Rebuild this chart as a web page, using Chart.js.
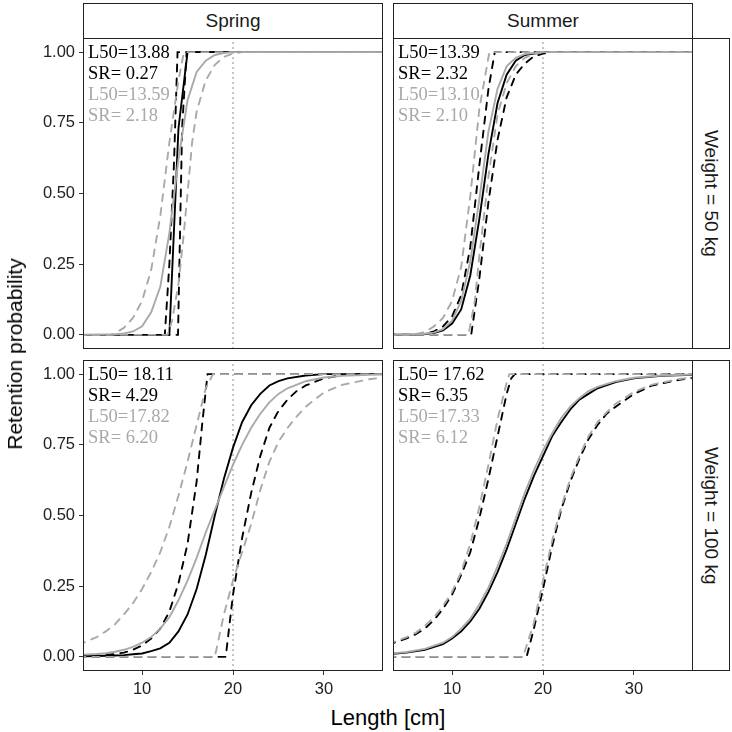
<!DOCTYPE html>
<html>
<head>
<meta charset="utf-8">
<script src="https://cdn.jsdelivr.net/npm/chart.js@4.4.1/dist/chart.umd.min.js"></script>
<style>
  body { margin: 0; background: #fff; }
  #fig { position: relative; width: 732px; height: 732px; overflow: hidden; font-family: "Liberation Sans", Arial, sans-serif; }
  canvas { position: absolute; }
  .box { position: absolute; box-sizing: border-box; border: 1px solid #222; pointer-events: none; }
  .strip { display: flex; align-items: center; justify-content: center; font-size: 19px; color: #1a1a1a; background: #fff; }
  .vert { writing-mode: vertical-rl; }
  .title { position: absolute; color: #000; white-space: nowrap; }
</style>
</head>
<body>
<div id="fig">
  <canvas id="tl" width="383" height="311" style="left:0px;top:38px"></canvas>
  <canvas id="tr" width="300" height="311" style="left:393px;top:38px"></canvas>
  <canvas id="bl" width="383" height="341" style="left:0px;top:360px"></canvas>
  <canvas id="br" width="300" height="341" style="left:393px;top:360px"></canvas>

  <div class="box" style="left:83px;top:38px;width:300px;height:311px"></div>
  <div class="box" style="left:393px;top:38px;width:300px;height:311px"></div>
  <div class="box" style="left:83px;top:360px;width:300px;height:311px"></div>
  <div class="box" style="left:393px;top:360px;width:300px;height:311px"></div>

  <div class="box strip" id="s0" style="left:83px;top:3px;width:300px;height:36px"></div>
  <div class="box strip" id="s1" style="left:393px;top:3px;width:300px;height:36px"></div>
  <div class="box strip vert" id="w0" style="left:692px;top:38px;width:38px;height:311px"></div>
  <div class="box strip vert" id="w1" style="left:692px;top:360px;width:38px;height:311px"></div>

  <div class="title" id="xtitle" style="left:388px;top:718px;font-size:22px;transform:translate(-50%,-50%)"></div>
  <div class="title" id="ytitle" style="left:15px;top:354px;font-size:21px;transform:translate(-50%,-50%) rotate(-90deg)"></div>
</div>
<script>
// facet labels and axis text
const seasons = ['Spring', 'Summer'];
const weights = ['Weight = 50 kg', 'Weight = 100 kg'];
const xTitle = 'Length [cm]';
const yTitle = 'Retention probability';
const xTicks = [10, 20, 30];
const yTicks = [0, 0.25, 0.5, 0.75, 1];
const refLength = 20;

// L50 / SR labels per panel (TL, TR, BL, BR)
const blackLabels = [['L50=13.88', 'SR= 0.27'], ['L50=13.39', 'SR= 2.32'], ['L50= 18.11', 'SR= 4.29'], ['L50= 17.62', 'SR= 6.35']];
const greyLabels = [['L50=13.59', 'SR= 2.18'], ['L50=13.10', 'SR= 2.10'], ['L50=17.82', 'SR= 6.20'], ['L50=17.33', 'SR= 6.12']];

// Spring, 50 kg
const spring50BlackFit = [[3,0],[13,0],[14,0.73],[15,1],[37,1]];
const spring50BlackLeft = [[3,0],[12.5,0],[13,0.25],[13.5,0.6],[13.9,1],[37,1]];
const spring50BlackRight = [[3,0],[13.95,0],[14.4,0.73],[14.9,1],[37,1]];
const spring50GreyFit = [[3,0],[7,0.002],[8,0.005],[9,0.012],[10,0.03],[11,0.08],[12,0.17],[13,0.36],[14,0.62],[15,0.83],[16,0.93],[17,0.97],[18,0.99],[19,0.997],[20,1],[37,1]];
const spring50GreyLeft = [[3,0],[6.5,0],[7,0.005],[8,0.025],[9,0.06],[10,0.12],[11,0.23],[12,0.42],[13,0.68],[14,0.9],[14.6,1],[37,1]];
const spring50GreyRight = [[3,0],[12.8,0],[13.3,0.05],[14,0.18],[14.5,0.33],[15,0.5],[15.5,0.68],[16,0.79],[17,0.9],[18,0.955],[19,0.983],[20,0.995],[21,1],[37,1]];

// Summer, 50 kg
const summer50BlackFit = [[3,0],[6,0.001],[7,0.003],[8,0.006],[9,0.016],[10,0.04],[11,0.09],[12,0.21],[13,0.41],[14,0.64],[15,0.82],[16,0.92],[17,0.97],[18,0.99],[19,0.995],[20,1],[37,1]];
const summer50BlackLeft = [[3,0],[6,0.001],[7,0.004],[8,0.012],[9,0.03],[10,0.065],[11,0.14],[12,0.31],[13,0.6],[14,0.87],[14.7,1],[37,1]];
const summer50BlackRight = [[3,0],[12.1,0],[13,0.2],[14,0.47],[15,0.69],[16,0.84],[17,0.92],[18,0.96],[19,0.985],[20,0.995],[21,1],[37,1]];
const summer50GreyFit = [[3,0],[6,0.002],[7,0.004],[8,0.008],[9,0.02],[10,0.05],[11,0.12],[12,0.26],[13,0.48],[14,0.72],[15,0.87],[16,0.95],[17,0.98],[18,0.993],[20,1],[37,1]];
const summer50GreyLeft = [[3,0],[5,0.001],[6,0.003],[7,0.01],[8,0.03],[9,0.06],[10,0.12],[11,0.24],[12,0.49],[13,0.8],[14.1,1],[37,1]];
const summer50GreyRight = [[3,0],[11.8,0],[12.5,0.12],[13,0.28],[14,0.56],[15,0.78],[16,0.89],[17,0.95],[18,0.98],[19,0.993],[20,1],[37,1]];

// Spring, 100 kg
const spring100BlackFit = [[3,0.002],[5,0.003],[7,0.005],[8,0.006],[9,0.009],[10,0.012],[11,0.02],[12,0.03],[13,0.05],[14,0.09],[15,0.15],[16,0.24],[17,0.36],[18,0.5],[19,0.63],[20,0.74],[21,0.83],[22,0.89],[23,0.93],[24,0.96],[25,0.975],[26,0.985],[28,0.995],[30,1],[37,1]];
const spring100BlackLeft = [[3,0.003],[5,0.005],[6,0.007],[7,0.01],[8,0.015],[9,0.025],[10,0.04],[11,0.065],[12,0.1],[13,0.16],[14,0.26],[15,0.4],[16,0.62],[16.6,0.82],[17.2,1],[37,1]];
const spring100BlackRight = [[3,0],[19.2,0],[20,0.22],[21,0.42],[22,0.58],[23,0.71],[24,0.81],[25,0.87],[26,0.91],[27,0.94],[28,0.96],[30,0.985],[32,0.997],[33,1],[37,1]];
const spring100GreyFit = [[3,0.007],[5,0.01],[6,0.013],[7,0.018],[8,0.025],[9,0.035],[10,0.05],[11,0.07],[12,0.1],[13,0.14],[14,0.2],[15,0.27],[16,0.35],[17,0.44],[18,0.52],[19,0.6],[20,0.68],[21,0.75],[22,0.81],[23,0.86],[24,0.9],[25,0.93],[26,0.95],[28,0.975],[30,0.988],[32,0.994],[35,0.998],[37,0.999]];
const spring100GreyLeft = [[3,0.042],[5,0.07],[6,0.09],[7,0.115],[8,0.15],[9,0.19],[10,0.24],[11,0.3],[12,0.37],[13,0.46],[14,0.57],[15,0.69],[16,0.82],[17,0.95],[17.8,1],[37,1]];
const spring100GreyRight = [[3,0],[18,0],[19,0.15],[20,0.27],[21,0.37],[22,0.47],[23,0.59],[24,0.69],[25,0.76],[26,0.81],[27,0.85],[28,0.885],[30,0.935],[32,0.962],[35,0.982],[37,0.99]];

// Summer, 100 kg
const summer100BlackFit = [[3,0.01],[5,0.015],[7,0.025],[9,0.045],[10,0.065],[11,0.09],[12,0.125],[13,0.17],[14,0.23],[15,0.3],[16,0.38],[17,0.47],[18,0.56],[19,0.64],[20,0.71],[21,0.78],[22,0.83],[23,0.875],[24,0.91],[25,0.93],[26,0.95],[28,0.972],[30,0.985],[33,0.994],[37,0.998]];
const summer100BlackLeft = [[3,0.043],[5,0.065],[6,0.08],[7,0.1],[8,0.13],[9,0.17],[10,0.22],[11,0.29],[12,0.37],[13,0.49],[14,0.63],[15,0.78],[16,0.93],[16.5,0.985],[16.9,1],[37,1]];
const summer100BlackRight = [[3,0],[18.2,0],[19,0.1],[20,0.24],[21,0.39],[22,0.52],[23,0.62],[24,0.7],[25,0.77],[26,0.82],[27,0.86],[28,0.885],[30,0.93],[32,0.96],[35,0.98],[37,0.99]];
const summer100GreyFit = [[3,0.011],[5,0.017],[7,0.028],[9,0.05],[10,0.07],[11,0.1],[12,0.135],[13,0.185],[14,0.245],[15,0.32],[16,0.4],[17,0.49],[18,0.58],[19,0.66],[20,0.73],[21,0.79],[22,0.845],[23,0.885],[24,0.915],[25,0.94],[26,0.955],[28,0.975],[30,0.987],[33,0.995],[37,0.999]];
const summer100GreyLeft = [[3,0.045],[5,0.07],[6,0.085],[7,0.11],[8,0.14],[9,0.18],[10,0.23],[11,0.3],[12,0.4],[13,0.53],[14,0.68],[15,0.84],[16,0.97],[16.3,1],[37,1]];
const summer100GreyRight = [[3,0],[17.8,0],[19,0.12],[20,0.27],[21,0.41],[22,0.53],[23,0.63],[24,0.71],[25,0.78],[26,0.83],[27,0.865],[28,0.895],[30,0.937],[32,0.963],[35,0.983],[37,0.99]];

const BLACK = '#000000';
const GREY = '#a9a9a9';

document.getElementById('s0').textContent = seasons[0];
document.getElementById('s1').textContent = seasons[1];
document.getElementById('w0').textContent = weights[0];
document.getElementById('w1').textContent = weights[1];
document.getElementById('xtitle').textContent = xTitle;
document.getElementById('ytitle').textContent = yTitle;

const toXY = arr => arr.map(p => ({ x: p[0], y: p[1] }));

function curve(arr, color, dashed) {
  return {
    data: toXY(arr),
    borderColor: color,
    borderWidth: 1.9,
    borderDash: dashed ? [7, 7] : [],
    borderCapStyle: dashed ? 'round' : 'butt',
    pointRadius: 0,
    fill: false,
    tension: 0
  };
}

// L50 / SR text in the top-left corner of each panel
const labelPlugin = {
  id: 'l50text',
  afterDatasetsDraw(chart, args, opts) {
    const ctx = chart.ctx;
    const a = chart.chartArea;
    const lines = [[opts.black[0], BLACK], [opts.black[1], BLACK], [opts.grey[0], GREY], [opts.grey[1], GREY]];
    ctx.save();
    ctx.font = '18.5px "Liberation Serif", "Times New Roman", serif';
    ctx.textBaseline = 'middle';
    ctx.textAlign = 'left';
    lines.forEach((l, i) => {
      ctx.fillStyle = l[1];
      ctx.fillText(l[0], a.left + 5, a.top + 15 + i * 21);
    });
    ctx.restore();
  }
};

// keep the plot area exactly the panel box: no extra label padding
function noPad(s) {
  s.paddingTop = 0;
  s.paddingBottom = 0;
  s.paddingLeft = 0;
  s.paddingRight = 0;
}

function drawPanel(id, curves, idx, showX, showY) {
  const datasets = [
    curve(curves.greyLeft, GREY, true),
    curve(curves.greyRight, GREY, true),
    curve(curves.greyFit, GREY, false),
    curve(curves.blackLeft, BLACK, true),
    curve(curves.blackRight, BLACK, true),
    curve(curves.blackFit, BLACK, false),
    {
      data: [{ x: refLength, y: -0.1 }, { x: refLength, y: 1.1 }],
      borderColor: '#9c9c9c', borderWidth: 1.5, borderDash: [0.5, 4.5], borderCapStyle: 'round', pointRadius: 0
    }
  ];
  const tickFont = { family: '"Liberation Sans", Arial, sans-serif', size: 16.5 };
  new Chart(document.getElementById(id), {
    type: 'line',
    data: { datasets },
    options: {
      responsive: false,
      animation: false,
      events: [],
      layout: { padding: 0 },
      plugins: {
        legend: { display: false },
        tooltip: { enabled: false },
        l50text: { black: blackLabels[idx], grey: greyLabels[idx] }
      },
      scales: {
        x: {
          type: 'linear', min: 3.5, max: 36.5, display: showX,
          afterBuildTicks: s => { s.ticks = xTicks.map(v => ({ value: v })); },
          afterFit: s => { noPad(s); if (showX) s.height = 30; },
          ticks: { color: '#222', font: tickFont, padding: 5, maxRotation: 0, autoSkip: false },
          grid: { drawOnChartArea: false, drawTicks: true, tickLength: 4, color: '#333' },
          border: { display: false }
        },
        y: {
          type: 'linear', min: -0.05, max: 1.05, display: showY,
          afterBuildTicks: s => { s.ticks = yTicks.map(v => ({ value: v })); },
          afterFit: s => { noPad(s); if (showY) s.width = 83; },
          ticks: { color: '#222', font: tickFont, padding: 4, callback: v => v.toFixed(2) },
          grid: { drawOnChartArea: false, drawTicks: true, tickLength: 4, color: '#333' },
          border: { display: false }
        }
      }
    },
    plugins: [labelPlugin]
  });
}

drawPanel('tl', { blackFit: spring50BlackFit, blackLeft: spring50BlackLeft, blackRight: spring50BlackRight,
  greyFit: spring50GreyFit, greyLeft: spring50GreyLeft, greyRight: spring50GreyRight }, 0, false, true);
drawPanel('tr', { blackFit: summer50BlackFit, blackLeft: summer50BlackLeft, blackRight: summer50BlackRight,
  greyFit: summer50GreyFit, greyLeft: summer50GreyLeft, greyRight: summer50GreyRight }, 1, false, false);
drawPanel('bl', { blackFit: spring100BlackFit, blackLeft: spring100BlackLeft, blackRight: spring100BlackRight,
  greyFit: spring100GreyFit, greyLeft: spring100GreyLeft, greyRight: spring100GreyRight }, 2, true, true);
drawPanel('br', { blackFit: summer100BlackFit, blackLeft: summer100BlackLeft, blackRight: summer100BlackRight,
  greyFit: summer100GreyFit, greyLeft: summer100GreyLeft, greyRight: summer100GreyRight }, 3, true, false);
</script>
</body>
</html>
